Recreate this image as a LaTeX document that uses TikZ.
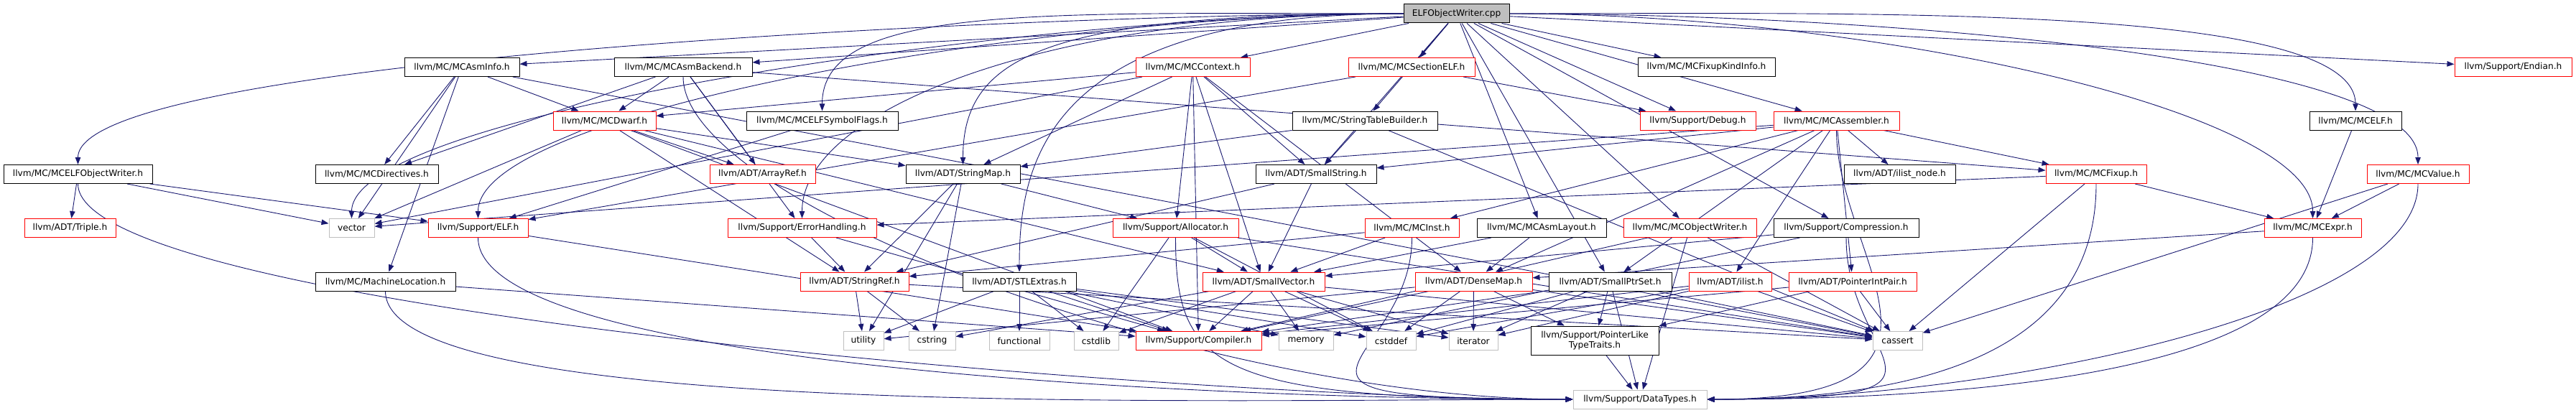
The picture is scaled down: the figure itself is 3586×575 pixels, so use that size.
\documentclass[tikz,border=0pt]{standalone}
\usepackage{fontspec}
\setmainfont{DejaVu Sans}
\usepackage{tikz}
\usetikzlibrary{arrows.meta}
\definecolor{azulnoite}{HTML}{191970}
\definecolor{rubro}{HTML}{FF0000}
\definecolor{cinza}{HTML}{BFBFBF}
\pgfdeclarelayer{fundo}
\pgfsetlayers{fundo,main}

\begin{document}
\begin{tikzpicture}[x=1pt, y=-1pt, >={Triangle[length=10pt,width=7.5pt]},
  hdr/.style={draw=black, fill=white, line width=1pt, inner sep=0pt, minimum height=26pt, font=\fontsize{12.2}{14}\selectfont},
  part/.style={hdr, draw=rubro},
  sys/.style={hdr, draw=cinza},
  raiz/.style={hdr, fill=cinza},
  dep/.style={->, azulnoite, line width=0.9pt}]
  \useasboundingbox (0,0) rectangle (3586,575);

  \node[raiz, minimum width=147pt] (cpp) at (2027.5,19) {ELFObjectWriter.cpp};

  \node[hdr,  minimum width=160pt] (asminfo)    at (643,93.5)    {llvm/MC/MCAsmInfo.h};
  \node[hdr,  minimum width=192pt] (asmbackend) at (951,93.5)    {llvm/MC/MCAsmBackend.h};
  \node[part, minimum width=159pt] (context)    at (1660.5,93.5) {llvm/MC/MCContext.h};
  \node[part, minimum width=176pt] (sectionelf) at (1965,93.5)   {llvm/MC/MCSectionELF.h};
  \node[hdr,  minimum width=191pt] (fixupkind)  at (2375.5,93.5) {llvm/MC/MCFixupKindInfo.h};
  \node[part, minimum width=163pt] (endian)     at (3498.5,93.5) {llvm/Support/Endian.h};

  \node[part, minimum width=143pt] (dwarf)       at (841.5,168)  {llvm/MC/MCDwarf.h};
  \node[hdr,  minimum width=211pt] (elfsymflags) at (1144.5,168) {llvm/MC/MCELFSymbolFlags.h};
  \node[hdr,  minimum width=202pt] (strtab)      at (1900,168)   {llvm/MC/StringTableBuilder.h};
  \node[part, minimum width=161pt] (debug)       at (2363.5,168) {llvm/Support/Debug.h};
  \node[part, minimum width=175pt] (assembler)   at (2556.5,168) {llvm/MC/MCAssembler.h};
  \node[hdr,  minimum width=128pt] (mcelf)       at (3279,168)   {llvm/MC/MCELF.h};

  \node[hdr,  minimum width=207pt] (elfobjwriter) at (108.5,242.5)  {llvm/MC/MCELFObjectWriter.h};
  \node[hdr,  minimum width=171pt] (directives)   at (524.5,242.5)  {llvm/MC/MCDirectives.h};
  \node[part, minimum width=147pt] (arrayref)     at (1061.5,242.5) {llvm/ADT/ArrayRef.h};
  \node[hdr,  minimum width=159pt] (stringmap)    at (1340.5,242.5) {llvm/ADT/StringMap.h};
  \node[hdr,  minimum width=168pt] (smallstring)  at (1832,242.5)   {llvm/ADT/SmallString.h};
  \node[hdr,  minimum width=155pt] (ilistnode)    at (2644.5,242.5) {llvm/ADT/ilist\_node.h};
  \node[part, minimum width=140pt] (fixup)        at (2918,242.5)   {llvm/MC/MCFixup.h};
  \node[part, minimum width=142pt] (value)        at (3366,242.5)   {llvm/MC/MCValue.h};

  \node[part, minimum width=127pt] (triple)      at (97.5,317.5)   {llvm/ADT/Triple.h};
  \node[sys,  minimum width=63pt]  (vector)      at (489.5,317.5)  {vector};
  \node[part, minimum width=139pt] (elf)         at (665.5,317.5)  {llvm/Support/ELF.h};
  \node[part, minimum width=207pt] (errhandling) at (1116.5,317.5) {llvm/Support/ErrorHandling.h};
  \node[part, minimum width=175pt] (allocator)   at (1636.5,317.5) {llvm/Support/Allocator.h};
  \node[part, minimum width=131pt] (mcinst)      at (1965.5,317.5) {llvm/MC/MCInst.h};
  \node[hdr,  minimum width=180pt] (asmlayout)   at (2146,317.5)   {llvm/MC/MCAsmLayout.h};
  \node[part, minimum width=185pt] (objwriter)   at (2352.5,317.5) {llvm/MC/MCObjectWriter.h};
  \node[hdr,  minimum width=202pt] (compression) at (2570,317.5)   {llvm/Support/Compression.h};
  \node[part, minimum width=135pt] (expr)        at (3219.5,317.5) {llvm/MC/MCExpr.h};

  \node[hdr,  minimum width=195pt] (machineloc)     at (536.5,392)  {llvm/MC/MachineLocation.h};
  \node[part, minimum width=151pt] (stringref)      at (1189.5,392) {llvm/ADT/StringRef.h};
  \node[hdr,  minimum width=158pt] (stlextras)      at (1419,392)   {llvm/ADT/STLExtras.h};
  \node[part, minimum width=170pt] (smallvector)    at (1759,392)   {llvm/ADT/SmallVector.h};
  \node[part, minimum width=163pt] (densemap)       at (2051.5,392) {llvm/ADT/DenseMap.h};
  \node[hdr,  minimum width=171pt] (smallptrset)    at (2241.5,392) {llvm/ADT/SmallPtrSet.h};
  \node[part, minimum width=115pt] (ilist)          at (2408.5,392) {llvm/ADT/ilist.h};
  \node[part, minimum width=178pt] (pointerintpair) at (2579,392)   {llvm/ADT/PointerIntPair.h};

  \node[sys,  minimum width=56pt]  (utility)    at (1202,474.5)   {utility};
  \node[sys,  minimum width=65pt]  (cstring)    at (1297.5,474.5) {cstring};
  \node[sys,  minimum width=84pt]  (functional) at (1419,474.5)   {functional};
  \node[sys,  minimum width=62pt]  (cstdlib)    at (1526,474.5)   {cstdlib};
  \node[part, minimum width=175pt] (compiler)   at (1668.5,474.5) {llvm/Support/Compiler.h};
  \node[sys,  minimum width=76pt]  (memory)     at (1818,474.5)   {memory};
  \node[sys,  minimum width=69pt]  (cstddef)    at (1936.5,474.5) {cstddef};
  \node[sys,  minimum width=68pt]  (iterator)   at (2051,474.5)   {iterator};
  \node[hdr,  minimum width=178pt, minimum height=40pt, align=center] (ptrliketraits) at (2220,474) {llvm/Support/PointerLike\\TypeTraits.h};
  \node[sys,  minimum width=69pt]  (cassert)    at (2641.5,474.5) {cassert};

  \node[sys,  minimum width=186pt] (datatypes) at (2283,556) {llvm/Support/DataTypes.h};

  \begin{pgfonlayer}{fundo}
    \foreach \alvo in {elfobjwriter,elfsymflags,stringmap,elf,errhandling,stlextras,vector}
      \draw[dep] (cpp.west) .. controls +(-500,0) and +(0,-150) .. (\alvo.north);
    \foreach \alvo in {mcelf,value,expr}
      \draw[dep] (cpp.east) .. controls +(500,0) and +(0,-150) .. (\alvo.north);
    \foreach \alvo in {asminfo,asmbackend,context,sectionelf,fixupkind,endian,strtab,debug,assembler,smallstring,asmlayout,objwriter,compression,smallptrset}
      \draw[dep] (cpp) -- (\alvo);

    \foreach \alvo in {triple,elf,vector} \draw[dep] (elfobjwriter) -- (\alvo);
    \foreach \alvo in {directives,dwarf,machineloc,vector,cassert} \draw[dep] (asminfo) -- (\alvo);
    \draw[dep] (machineloc) -- (compiler);
    \foreach \alvo in {arrayref,directives,dwarf,fixup,errhandling} \draw[dep] (asmbackend) -- (\alvo);
    \foreach \alvo in {arrayref,stringmap,stringref,compiler,vector,smallvector} \draw[dep] (dwarf) -- (\alvo);
    \foreach \alvo in {dwarf,stringmap,smallstring,allocator,smallvector,densemap,compiler,vector} \draw[dep] (context) -- (\alvo);
    \foreach \alvo in {debug,elf} \draw[dep] (sectionelf) -- (\alvo);
    \draw[dep] (elfsymflags) -- (elf);
    \foreach \alvo in {smallstring,stringmap,cassert} \draw[dep] (strtab) -- (\alvo);
    \foreach \alvo in {densemap,smallptrset,smallstring,ilist,ilistnode,fixup,mcinst,vector,pointerintpair} \draw[dep] (assembler) -- (\alvo);
    \draw[dep] (mcelf) -- (expr);
    \foreach \alvo in {stringref,allocator,cstring,utility} \draw[dep] (stringmap) -- (\alvo);
    \foreach \alvo in {smallvector,stringref} \draw[dep] (smallstring) -- (\alvo);
    \foreach \alvo in {expr,errhandling,cassert} \draw[dep] (fixup) -- (\alvo);
    \foreach \alvo in {expr,cassert} \draw[dep] (value) -- (\alvo);
    \draw[dep] (elf) -- (compiler);
    \foreach \alvo in {stringref,compiler} \draw[dep] (errhandling) -- (\alvo);
    \foreach \alvo in {smallvector,cstdlib,cstddef,cassert} \draw[dep] (allocator) -- (\alvo);
    \foreach \alvo in {smallvector,stringref} \draw[dep] (mcinst) -- (\alvo);
    \foreach \alvo in {densemap,smallvector} \draw[dep] (asmlayout) -- (\alvo);
    \foreach \alvo in {compiler,cassert,datatypes} \draw[dep] (objwriter) -- (\alvo);
    \foreach \alvo in {smallvector,memory} \draw[dep] (compression) -- (\alvo);
    \draw[dep] (expr) -- (densemap);
    \foreach \alvo in {utility,cstring,cassert} \draw[dep] (stringref) -- (\alvo);
    \foreach \alvo in {utility,functional,cstdlib,compiler,memory,cstddef,iterator} \draw[dep] (stlextras) -- (\alvo);
    \foreach \alvo in {cstring,compiler,memory,cstddef,cstdlib,iterator,cassert} \draw[dep] (smallvector) -- (\alvo);
    \foreach \alvo in {utility,compiler,cstddef,iterator,ptrliketraits,cassert} \draw[dep] (densemap) -- (\alvo);
    \foreach \alvo in {compiler,ptrliketraits,cassert,cstddef,iterator,datatypes} \draw[dep] (smallptrset) -- (\alvo);
    \foreach \alvo in {compiler,cassert,cstddef,iterator} \draw[dep] (ilist) -- (\alvo);
    \foreach \alvo in {ptrliketraits,cassert,compiler} \draw[dep] (pointerintpair) -- (\alvo);
    \draw[dep] (ptrliketraits) -- (datatypes);

    \foreach \fonte in {elfobjwriter,machineloc,asmbackend,elf,allocator,mcinst}
      \draw[dep] (\fonte.south) .. controls +(0,180) and +(-500,0) .. (datatypes.west);
    \foreach \fonte in {assembler,fixup,value,compression,expr}
      \draw[dep] (\fonte.south) .. controls +(0,180) and +(400,0) .. (datatypes.east);
  \end{pgfonlayer}
\end{tikzpicture}
\end{document}
